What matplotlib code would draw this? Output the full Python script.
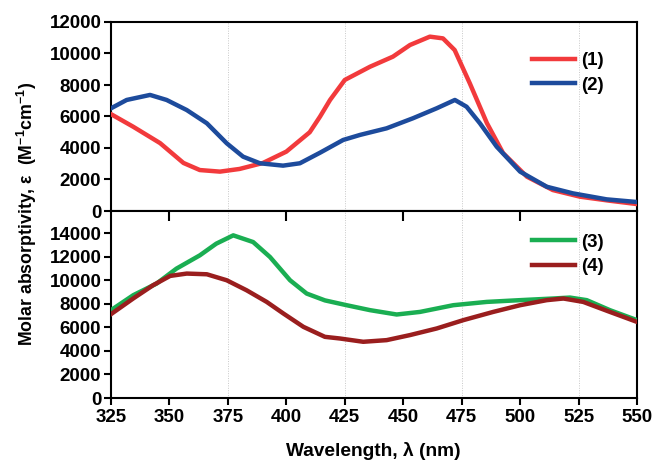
import matplotlib
matplotlib.use("Agg")
import matplotlib.pyplot as plt

plt.rcParams['font.family'] = ['Liberation Sans', 'DejaVu Sans']
plt.rcParams['font.weight'] = 'bold'
plt.rcParams['mathtext.fontset'] = 'custom'
plt.rcParams['mathtext.rm'] = 'Liberation Sans:bold'
plt.rcParams['mathtext.bf'] = 'Liberation Sans:bold'
plt.rcParams['mathtext.default'] = 'bf'

# ---- data ----
wl1 = [325, 334.5, 346, 356, 363, 371.6, 380, 390, 400, 410, 414.4, 418.7, 425, 435.8,
       445.6, 452.9, 461.4, 467, 472, 478.5, 485.8, 492.7, 502.9, 514, 525.6, 538.4, 550]
eps1 = [6150, 5350, 4310, 3050, 2600, 2500, 2670, 3050, 3770, 5000, 5990, 7050, 8320, 9160,
        9800, 10540, 11070, 10960, 10220, 8100, 5580, 3680, 2180, 1330, 910, 650, 440]

wl2 = [325, 331.7, 341.7, 348.8, 357.4, 366, 374.5, 381.5, 388.7, 398.6, 405.8, 414.4,
       424.3, 431.5, 442.9, 454.2, 464.3, 472.1, 477.1, 482.8, 490, 500, 511.4, 522.6, 537, 550]
eps2 = [6520, 7050, 7370, 7050, 6410, 5570, 4300, 3450, 3030, 2880, 3030, 3700,
        4510, 4830, 5250, 5890, 6520, 7050, 6620, 5570, 4080, 2500, 1540, 1120, 740, 570]

wl3 = [325, 334.5, 344.5, 353, 363, 370, 377.3, 385.8, 393, 401.6, 408.7, 416.5,
       425.8, 435.8, 447.2, 457.2, 471.4, 485.7, 500, 514.2, 521.3, 528.5, 538.4, 550]
eps3 = [7470, 8740, 9730, 11000, 12130, 13120, 13830, 13260, 11990, 10010, 8880, 8300,
        7890, 7470, 7100, 7320, 7890, 8170, 8320, 8460, 8540, 8320, 7470, 6620]

wl4 = [325, 334.5, 343, 350.3, 357.4, 366, 374.5, 383, 391.6, 398.7, 407.3, 416.5,
       422.9, 432.9, 442.9, 452.9, 464.3, 475.7, 488.5, 500, 511.4, 518.5, 527, 538.4, 550]
eps4 = [7130, 8460, 9590, 10380, 10580, 10520, 10010, 9160, 8170, 7190, 6050, 5200,
        5060, 4780, 4920, 5350, 5910, 6620, 7320, 7890, 8320, 8460, 8170, 7320, 6470]

labels = ['(1)', '(2)', '(3)', '(4)']
colors = ['#f23a3c', '#1d4b9c', '#1aae52', '#9a1e1e']

top_yticks = [0, 2000, 4000, 6000, 8000, 10000, 12000]
bot_yticks = [0, 2000, 4000, 6000, 8000, 10000, 12000, 14000]
xticks = [325, 350, 375, 400, 425, 450, 475, 500, 525, 550]
grid_x = [375, 425, 475, 525]

fig = plt.figure(figsize=(6.52, 4.61), dpi=100)
W, H = 652, 461
L, R = 111 / W, 637 / W
ax1 = fig.add_axes([L, 1 - 211 / H, R - L, (211 - 22) / H])
ax2 = fig.add_axes([L, 1 - 398 / H, R - L, (398 - 211) / H])

lw = 3.2
ax1.plot(wl1, eps1, color=colors[0], lw=lw, label=labels[0], zorder=3)
ax1.plot(wl2, eps2, color=colors[1], lw=lw, label=labels[1], zorder=3)
ax2.plot(wl3, eps3, color=colors[2], lw=lw, label=labels[2], zorder=3)
ax2.plot(wl4, eps4, color=colors[3], lw=lw, label=labels[3], zorder=3)

for ax in (ax1, ax2):
    ax.set_xlim(325, 550)
    for g in grid_x:
        ax.axvline(g, color='#c8c8c8', lw=0.7, ls=(0, (1, 1.5)), zorder=1)
    for s in ax.spines.values():
        s.set_linewidth(1.5)
    ax.tick_params(axis='y', direction='out', length=5, width=1.5, labelsize=13.5, pad=2)

ax1.set_ylim(0, 12000)
ax1.set_yticks(top_yticks)
ax1.tick_params(axis='x', bottom=False, labelbottom=False)

ax2.set_ylim(0, 15900)
ax2.set_yticks(bot_yticks)
ax2.set_xticks(xticks)
ax2.tick_params(axis='x', direction='out', length=5, width=1.5, labelsize=13.5, pad=3,
                top=False)
# inward ticks at the top of the lower panel
sec = ax2.secondary_xaxis('top')
sec.set_xticks([350, 400, 450, 500])
sec.tick_params(direction='in', length=7, width=1.5)
sec.set_xticklabels([])
sec.spines['top'].set_visible(False)

for ax in (ax1, ax2):
    for t in ax.get_yticklabels() + ax.get_xticklabels():
        t.set_fontweight('bold')

leg_kw = dict(frameon=False, handlelength=2.3, handletextpad=0.3, labelspacing=0.4,
              prop={'weight': 'bold', 'size': 13.5})
ax1.legend(loc='upper right', bbox_to_anchor=(0.968, 0.93), **leg_kw)
ax2.legend(loc='upper right', bbox_to_anchor=(0.968, 0.97), **leg_kw)

fig.text(373 / W, 1 - 451 / H, r'Wavelength, λ (nm)', ha='center', va='center',
         fontsize=13.8, fontweight='bold')
fig.text(27 / W, 1 - 214 / H, r'Molar absorptivity, ε  (M$^{-1}$cm$^{-1}$)',
         rotation=90, ha='center', va='center', fontsize=12.8, fontweight='bold')

fig.savefig('out.png', dpi=100)
